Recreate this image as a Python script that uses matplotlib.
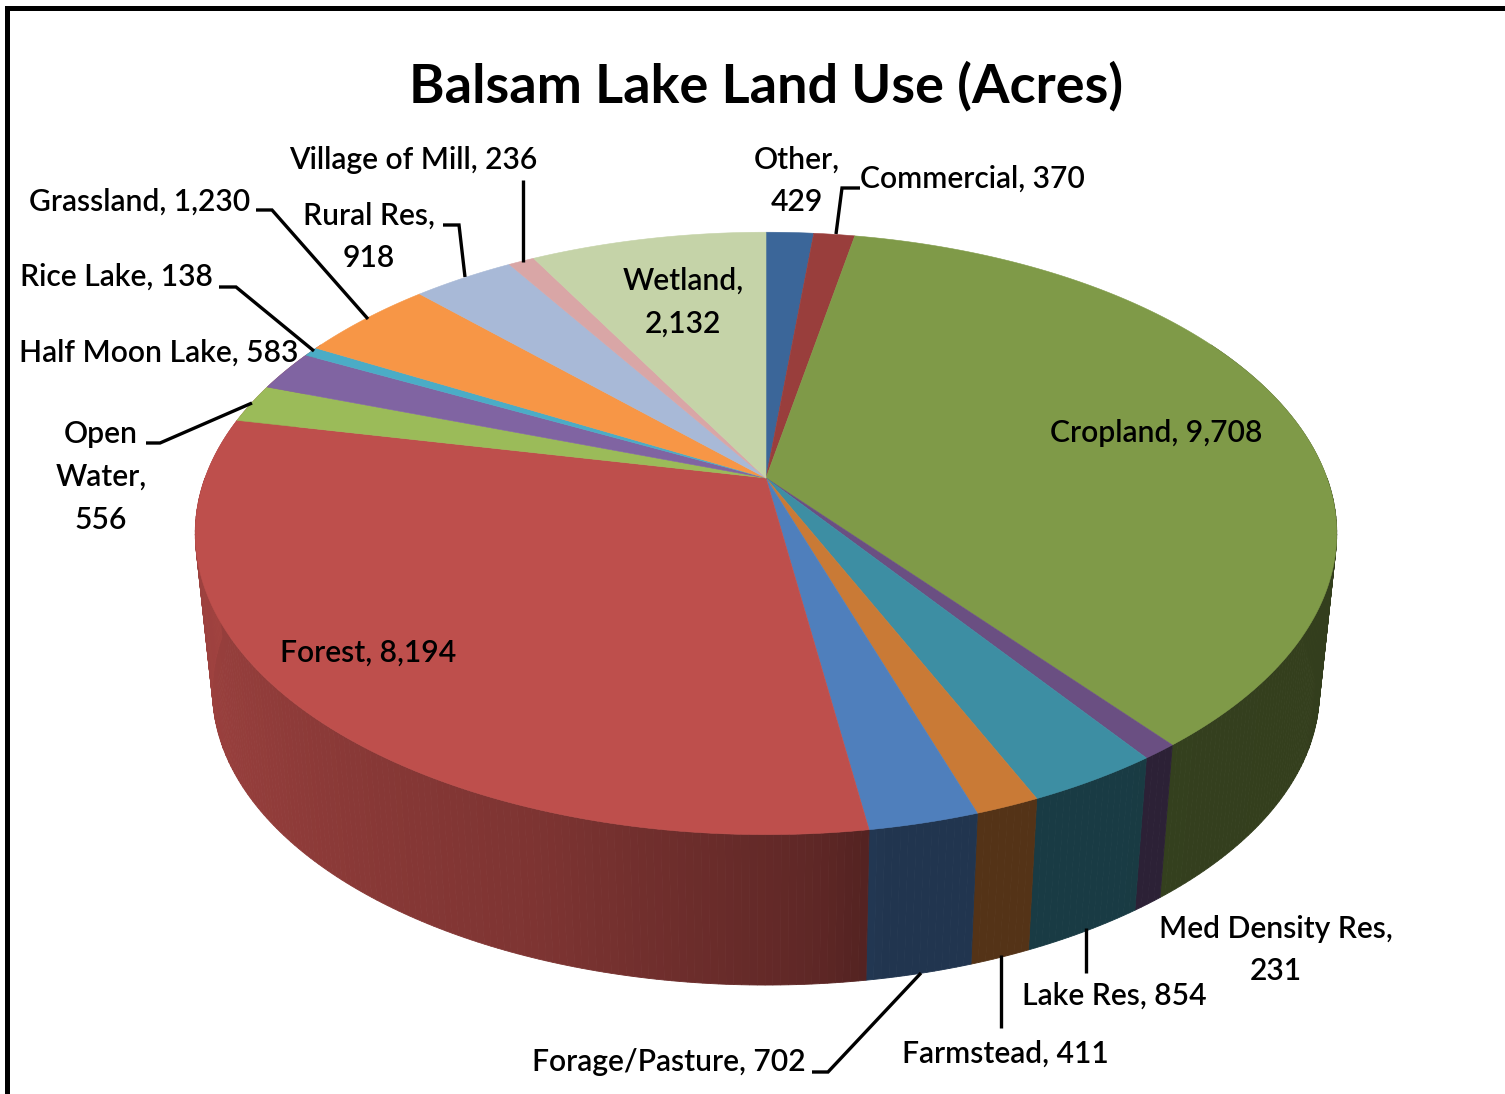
"""Balsam Lake land use, drawn as a tilted 3D pie from plain patches."""
import numpy as np
import matplotlib
matplotlib.use("Agg")
import matplotlib.pyplot as plt
from matplotlib.patches import Polygon, Rectangle

CATEGORIES = ["Other", "Commercial", "Cropland", "Med Density Res", "Lake Res",
              "Farmstead", "Forage/Pasture", "Forest", "Open Water",
              "Half Moon Lake", "Rice Lake", "Grassland", "Rural Res",
              "Village of Mill", "Wetland"]
ACRES = [429, 370, 9708, 231, 854, 411, 702, 8194, 556, 583, 138, 1230, 918, 236, 2132]
COLORS = ["#3b6699", "#993e3c", "#7f9a48", "#6a4f82", "#3d8ea3", "#c97a36", "#4f7fbc",
          "#be4f4c", "#9bbb59", "#8064a2", "#4bacc6", "#f79646", "#a8b9d7", "#d9a6a6",
          "#c5d3a8"]
TITLE = "Balsam Lake Land Use (Acres)"

# label text, x, y (pixels, text centre)
LABELS = [
    ("Other,\n429", 797, 181),
    ("Commercial, 370", 972, 179),
    ("Cropland, 9,708", 1156, 433),
    ("Med Density Res,\n231", 1276, 950),
    ("Lake Res, 854", 1114, 996),
    ("Farmstead, 411", 1005, 1054),
    ("Forage/Pasture, 702", 669, 1062),
    ("Forest, 8,194", 368, 653),
    ("Open\nWater,\n556", 101, 477),
    ("Half Moon Lake, 583", 159, 353),
    ("Rice Lake, 138", 116, 277),
    ("Grassland, 1,230", 140, 202),
    ("Rural Res,\n918", 369, 237),
    ("Village of Mill, 236", 413, 160),
    ("Wetland,\n2,132", 683, 302),
]
LEADERS = [
    [(860, 188), (842, 188), (836, 234)],
    [(523, 180), (523, 262)],
    [(256, 210), (272, 210), (368, 319)],
    [(443, 225), (459, 225), (465, 277)],
    [(219, 287), (236, 287), (314, 351)],
    [(146, 443), (160, 443), (252, 403)],
    [(1086, 928), (1086, 973)],
    [(1001, 955), (1001, 1028)],
    [(812, 1072), (828, 1072), (921, 973)],
]

W, H = 1505, 1094
CX = 766
TILT = 0.184
TOP_Y0, TOP_A, TOP_B = 478, 561, 291
BOT_Y0, BOT_A, BOT_B = 637, 544, 284


def rim(theta, y0, a, b):
    """Project clockwise-from-north angles onto the perspective ellipse."""
    u, v = np.sin(theta), np.cos(theta)
    w = 1 + TILT * v
    return CX + a * u / w, y0 - b * v / w


def side_shade(theta):
    # the side wall gets lighter towards the left of the pie
    deg = np.degrees(theta)
    return np.interp(deg, [90, 170, 176, 200, 235, 275], [0.40, 0.42, 0.50, 0.66, 0.77, 0.86])


def darker(color, f):
    return tuple(np.array(matplotlib.colors.to_rgb(color)) * f)


def silhouette_patch(top_from, top_to, bottom_at, color, shade):
    # fills the gap between the strips and the common tangent of both rims
    ts = np.radians(np.linspace(top_from, top_to, 30))
    x, y = rim(ts, TOP_Y0, TOP_A, TOP_B)
    bx, by = rim(np.radians(bottom_at), BOT_Y0, BOT_A, BOT_B)
    c = darker(color, shade)
    return Polygon(np.column_stack([np.r_[x, bx], np.r_[y, by]]), closed=True, fc=c, ec=c, lw=0.3)


plt.rcParams["font.family"] = ["Lato", "DejaVu Sans"]
fig = plt.figure(figsize=(W / 100, H / 100), dpi=100)
ax = fig.add_axes([0, 0, 1, 1])
ax.set_xlim(0, W)
ax.set_ylim(H, 0)
ax.axis("off")

# frame, only top and left are inside the crop
ax.add_patch(Rectangle((5, 6), W, 5, color="black", lw=0))
ax.add_patch(Rectangle((5, 6), 5, H, color="black", lw=0))

edges = np.concatenate([[0], np.cumsum(ACRES)]) / np.sum(ACRES) * 2 * np.pi

ax.add_patch(silhouette_patch(259, 300, 259, COLORS[CATEGORIES.index("Forest")], 0.84))
ax.add_patch(silhouette_patch(60, 101, 101, COLORS[CATEGORIES.index("Cropland")], 0.40))

# side wall first, in thin strips so the shading can vary
for start, stop, color in zip(edges[:-1], edges[1:], COLORS):
    lo, hi = max(start, np.radians(90)), min(stop, np.radians(270))
    if hi <= lo:
        continue
    n = max(2, int(np.degrees(hi - lo) * 1.5))
    steps = np.linspace(lo, hi, n + 1)
    for t0, t1 in zip(steps[:-1], steps[1:]):
        ts = np.linspace(t0, t1, 3)
        xt, yt = rim(ts, TOP_Y0, TOP_A, TOP_B)
        xb, yb = rim(ts[::-1], BOT_Y0, BOT_A, BOT_B)
        pts = np.column_stack([np.r_[xt, xb], np.r_[yt, yb]])
        c = darker(color, side_shade((t0 + t1) / 2))
        ax.add_patch(Polygon(pts, closed=True, fc=c, ec=c, lw=0.6))

# top face
for start, stop, color in zip(edges[:-1], edges[1:], COLORS):
    ts = np.linspace(start, stop, max(3, int(np.degrees(stop - start) * 2)))
    x, y = rim(ts, TOP_Y0, TOP_A, TOP_B)
    pts = np.column_stack([np.r_[CX, x], np.r_[TOP_Y0, y]])
    ax.add_patch(Polygon(pts, closed=True, fc=color, ec=color, lw=0.4))

for path in LEADERS:
    xs, ys = zip(*path)
    ax.plot(xs, ys, color="black", lw=2.4, solid_capstyle="butt", solid_joinstyle="miter")

ax.text(766, 86, TITLE, ha="center", va="center", fontsize=39, fontweight="bold", color="black")
for text, x, y in LABELS:
    ax.text(x, y, text, ha="center", va="center", fontsize=21.6, fontweight="semibold",
            color="black", linespacing=1.64)

fig.savefig("out.png", dpi=100)
